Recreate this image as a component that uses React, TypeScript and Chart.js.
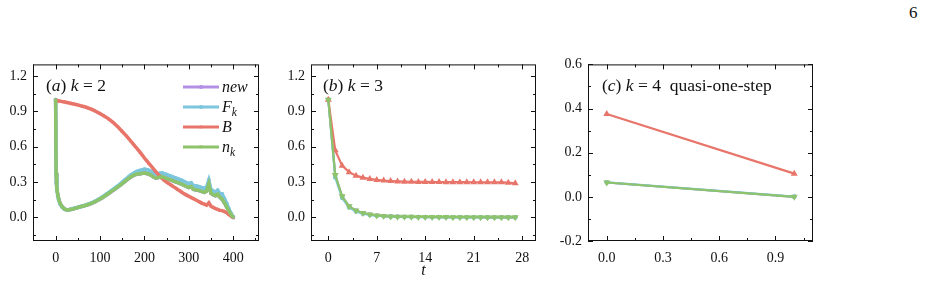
import React, { useEffect, useRef } from "react";
import { Chart, registerables } from "chart.js";

Chart.register(...registerables);

const SERIF = "'Liberation Serif', 'Times New Roman', serif";
const INK = "#111111";

const COLOR_NEW = "#b48fe6";
const COLOR_F = "#7cc6dd";
const COLOR_B = "#e8756a";
const COLOR_N = "#8dc46b";

// ---------- Panel (a): k = 2 ----------
const tA = [
  0, 1, 2, 3, 5, 7, 10, 15, 20, 25,
  30, 35, 40, 45, 50, 55, 60, 65, 70, 75,
  80, 85, 90, 95, 100, 105, 110, 115, 120, 125,
  130, 135, 140, 145, 150, 155, 160, 165, 170, 175,
  180, 185, 190, 195, 200, 205, 210, 215, 220, 225,
  230, 235, 240, 245, 250, 255, 260, 265, 270, 275,
  280, 285, 290, 295, 300, 305, 310, 315, 320, 325,
  330, 335, 340, 345, 350, 355, 360, 365, 370, 375,
  380, 385, 390, 395, 400,
];
const newA = [
  1.0, 0.38, 0.30, 0.25, 0.19, 0.155, 0.12, 0.09, 0.072, 0.064,
  0.065, 0.069, 0.074, 0.079, 0.085, 0.09, 0.095, 0.1, 0.106, 0.112,
  0.119, 0.127, 0.136, 0.146, 0.157, 0.168, 0.18, 0.193, 0.206, 0.219,
  0.232, 0.245, 0.259, 0.273, 0.288, 0.303, 0.318, 0.333, 0.346, 0.357,
  0.365, 0.37, 0.372, 0.375, 0.378, 0.374, 0.368, 0.358, 0.345, 0.335,
  0.338, 0.343, 0.346, 0.338, 0.332, 0.324, 0.317, 0.31, 0.303, 0.296,
  0.289, 0.281, 0.272, 0.263, 0.255, 0.262, 0.24, 0.236, 0.232, 0.226,
  0.22, 0.214, 0.225, 0.285, 0.205, 0.193, 0.185, 0.198, 0.172, 0.155,
  0.125, 0.09, 0.055, 0.025, 0.0,
];
const fA = [
  1.0, 0.37, 0.29, 0.24, 0.18, 0.148, 0.114, 0.086, 0.07, 0.063,
  0.065, 0.069, 0.075, 0.08, 0.086, 0.091, 0.097, 0.102, 0.108, 0.115,
  0.122, 0.13, 0.14, 0.15, 0.161, 0.173, 0.186, 0.199, 0.213, 0.226,
  0.24, 0.254, 0.268, 0.283, 0.299, 0.315, 0.331, 0.347, 0.362, 0.374,
  0.385, 0.393, 0.399, 0.404, 0.41, 0.406, 0.4, 0.39, 0.377, 0.367,
  0.37, 0.376, 0.378, 0.37, 0.364, 0.356, 0.349, 0.342, 0.335, 0.328,
  0.321, 0.313, 0.304, 0.295, 0.287, 0.294, 0.272, 0.268, 0.264, 0.258,
  0.252, 0.246, 0.258, 0.318, 0.237, 0.225, 0.216, 0.23, 0.204, 0.2,
  0.16, 0.12, 0.075, 0.035, 0.005,
];
const bA = [
  0.995, 0.994, 0.993, 0.992, 0.991, 0.99, 0.988, 0.984, 0.98, 0.976,
  0.972, 0.968, 0.964, 0.96, 0.955, 0.95, 0.945, 0.94, 0.934, 0.927,
  0.92, 0.911, 0.902, 0.892, 0.882, 0.871, 0.86, 0.848, 0.835, 0.82,
  0.805, 0.788, 0.77, 0.75, 0.73, 0.71, 0.69, 0.668, 0.645, 0.622,
  0.6, 0.578, 0.555, 0.53, 0.505, 0.482, 0.46, 0.437, 0.415, 0.392,
  0.37, 0.35, 0.332, 0.315, 0.3, 0.287, 0.275, 0.262, 0.25, 0.237,
  0.225, 0.212, 0.2, 0.19, 0.18, 0.17, 0.16, 0.15, 0.14, 0.13,
  0.12, 0.113, 0.105, 0.125, 0.095, 0.085, 0.075, 0.068, 0.06, 0.058,
  0.05, 0.04, 0.025, 0.012, 0.0,
];
const nA = [
  1.0, 0.38, 0.30, 0.25, 0.19, 0.155, 0.12, 0.09, 0.072, 0.064,
  0.065, 0.069, 0.074, 0.079, 0.085, 0.09, 0.095, 0.1, 0.106, 0.112,
  0.119, 0.127, 0.136, 0.146, 0.157, 0.168, 0.18, 0.193, 0.206, 0.219,
  0.232, 0.245, 0.259, 0.273, 0.288, 0.303, 0.318, 0.333, 0.346, 0.357,
  0.365, 0.37, 0.372, 0.375, 0.378, 0.374, 0.368, 0.358, 0.345, 0.335,
  0.338, 0.343, 0.346, 0.338, 0.332, 0.324, 0.317, 0.31, 0.303, 0.296,
  0.289, 0.281, 0.272, 0.263, 0.255, 0.262, 0.24, 0.236, 0.232, 0.226,
  0.22, 0.214, 0.225, 0.285, 0.205, 0.193, 0.185, 0.198, 0.172, 0.155,
  0.125, 0.09, 0.055, 0.025, 0.0,
];
const xTicksA = [0, 100, 200, 300, 400];

// ---------- Panel (b): k = 3 ----------
const tB = [0, 1, 2, 3, 4, 5, 6, 7, 8, 9, 10, 11, 12, 13, 14, 15, 16, 17, 18, 19, 20, 21, 22, 23, 24, 25, 26, 27];
const newB = [1.0, 0.36, 0.18, 0.095, 0.058, 0.038, 0.025, 0.017, 0.012, 0.009, 0.007, 0.006, 0.005, 0.004, 0.004, 0.003, 0.003, 0.003, 0.002, 0.002, 0.002, 0.002, 0.002, 0.001, 0.001, 0.001, 0.001, 0.001];
const fB = [1.0, 0.34, 0.165, 0.085, 0.05, 0.032, 0.021, 0.014, 0.01, 0.007, 0.005, 0.004, 0.003, 0.003, 0.002, 0.002, 0.002, 0.001, 0.001, 0.001, 0.001, 0.001, 0.001, 0.0, 0.0, 0.0, 0.0, 0.0];
const bB = [1.0, 0.57, 0.44, 0.385, 0.355, 0.338, 0.327, 0.319, 0.313, 0.309, 0.306, 0.304, 0.303, 0.302, 0.302, 0.301, 0.301, 0.3, 0.3, 0.3, 0.3, 0.299, 0.299, 0.299, 0.298, 0.298, 0.295, 0.29];
const nB = [1.0, 0.36, 0.18, 0.095, 0.058, 0.038, 0.025, 0.017, 0.012, 0.009, 0.007, 0.006, 0.005, 0.004, 0.004, 0.003, 0.003, 0.003, 0.002, 0.002, 0.002, 0.002, 0.002, 0.001, 0.001, 0.001, 0.001, 0.001];
const xTicksB = [0, 7, 14, 21, 28];

// ---------- Panel (c): k = 4 quasi-one-step ----------
const tC = [0, 1];
const newC = [0.065, 0.0];
const fC = [0.066, 0.001];
const bC = [0.375, 0.105];
const nC = [0.065, 0.0];
const xTicksC = [0, 0.3, 0.6, 0.9];

const yTicksAB = [0, 0.3, 0.6, 0.9, 1.2];
const yTicksC = [-0.2, 0, 0.2, 0.4, 0.6];

type Part = { t: string; it?: boolean; sub?: boolean };

function drawParts(ctx: CanvasRenderingContext2D, parts: Part[], x: number, y: number, size: number) {
  let cx = x;
  for (const p of parts) {
    const s = p.sub ? size * 0.72 : size;
    ctx.font = `${p.it ? "italic " : ""}${s}px ${SERIF}`;
    ctx.fillText(p.t, cx, p.sub ? y + size * 0.25 : y);
    cx += ctx.measureText(p.t).width;
  }
  return cx;
}

type SeriesDef = { key: string; color: string; style: string; rot: number; order: number; ys: number[]; legend: Part[] };

type PanelProps = {
  left: number; top: number; width: number; height: number;
  yWidth: number; padTop: number; padRight: number; areaH: number;
  xMin: number; xMax: number; yMin: number; yMax: number;
  xTicks: number[]; xMinor: number; yTicks: number[]; yMinor: number;
  xDigits: number; yDigits: number;
  xs: number[]; series: SeriesDef[];
  lineWidth: number; triRadius: number; dotRadius: number;
  label: Part[]; labelDx: number;
  legend?: boolean; xTitle?: string;
};

function minorValues(min: number, max: number, step: number, majors: number[]) {
  const out: number[] = [];
  const i0 = Math.ceil(min / step - 1e-9);
  const i1 = Math.floor(max / step + 1e-9);
  for (let i = i0; i <= i1; i++) {
    const v = i * step;
    if (!majors.some((m) => Math.abs(m - v) < step * 1e-3)) out.push(v);
  }
  return out;
}

function drawMarker(ctx: CanvasRenderingContext2D, style: string, rot: number, x: number, y: number, r: number) {
  ctx.beginPath();
  if (style === "circle") {
    ctx.arc(x, y, r, 0, Math.PI * 2);
  } else {
    const s = rot === 180 ? -1 : 1;
    ctx.moveTo(x, y - s * r * 1.1);
    ctx.lineTo(x - r, y + s * r * 0.7);
    ctx.lineTo(x + r, y + s * r * 0.7);
    ctx.closePath();
  }
  ctx.fill();
}

function Panel(p: PanelProps) {
  const ref = useRef<HTMLCanvasElement>(null);
  useEffect(() => {
    const canvas = ref.current!;
    const frame = {
      id: "frame",
      afterDraw(chart: any) {
        const ctx: CanvasRenderingContext2D = chart.ctx;
        const a = chart.chartArea;
        const xs = chart.scales.x;
        const ys = chart.scales.y;
        ctx.save();
        ctx.strokeStyle = INK;
        ctx.lineWidth = 1;
        ctx.strokeRect(a.left + 0.5, a.top + 0.5, a.right - a.left - 1, a.bottom - a.top - 1);
        const seg = (x1: number, y1: number, x2: number, y2: number) => {
          ctx.beginPath();
          ctx.moveTo(x1, y1);
          ctx.lineTo(x2, y2);
          ctx.stroke();
        };
        const xMin = minorValues(p.xMin, p.xMax, p.xMinor, p.xTicks);
        const yMin = minorValues(p.yMin, p.yMax, p.yMinor, p.yTicks);
        const drawX = (v: number, len: number) => {
          const px = Math.round(xs.getPixelForValue(v)) + 0.5;
          seg(px, a.bottom, px, a.bottom - len);
          seg(px, a.top, px, a.top + len);
        };
        const drawY = (v: number, len: number) => {
          const py = Math.round(ys.getPixelForValue(v)) + 0.5;
          seg(a.left, py, a.left + len, py);
          seg(a.right, py, a.right - len, py);
        };
        p.xTicks.forEach((v) => drawX(v, 5));
        xMin.forEach((v) => drawX(v, 3));
        p.yTicks.forEach((v) => drawY(v, 5));
        yMin.forEach((v) => drawY(v, 3));

        ctx.fillStyle = INK;
        ctx.textBaseline = "alphabetic";
        ctx.textAlign = "left";
        drawParts(ctx, p.label, a.left + p.labelDx, a.top + 27, 17.5);

        if (p.legend) {
          p.series.forEach((s, i) => {
            const y = a.top + 22.5 + i * 20;
            const x1 = a.left + 150;
            const x2 = a.left + 186;
            ctx.strokeStyle = s.color;
            ctx.lineWidth = 3;
            seg(x1, y, x2, y);
            ctx.fillStyle = s.color;
            drawMarker(ctx, s.style, s.rot, (x1 + x2) / 2, y, 2);
            ctx.fillStyle = INK;
            drawParts(ctx, s.legend, a.left + 189, y + 5, 16);
          });
        }
        if (p.xTitle) {
          ctx.fillStyle = INK;
          ctx.font = `italic 16px ${SERIF}`;
          ctx.textAlign = "center";
          ctx.fillText(p.xTitle, (a.left + a.right) / 2, 275 - p.top);
        }
        ctx.restore();
      },
    };

    const xAxisH = p.height - p.padTop - p.areaH;
    const tickFont = { family: SERIF, size: 14 };
    const chart = new Chart(canvas, {
      type: "line",
      data: {
        datasets: p.series.map((s) => ({
          label: s.key,
          data: p.xs.map((x, i) => ({ x, y: s.ys[i] })),
          borderColor: s.color,
          backgroundColor: s.color,
          pointBackgroundColor: s.color,
          pointBorderColor: s.color,
          borderWidth: p.lineWidth,
          pointRadius: s.style === "circle" ? p.dotRadius : p.triRadius,
          pointBorderWidth: 0,
          pointStyle: s.style as any,
          pointRotation: s.rot,
          order: s.order,
          tension: 0,
        })),
      },
      options: {
        animation: false,
        responsive: false,
        devicePixelRatio: 1,
        events: [],
        layout: { padding: { top: p.padTop, right: p.padRight, left: 0, bottom: 0 } },
        plugins: { legend: { display: false }, tooltip: { enabled: false } },
        scales: {
          x: {
            type: "linear",
            min: p.xMin,
            max: p.xMax,
            afterBuildTicks: (s: any) => {
              s.ticks = p.xTicks.map((value) => ({ value }));
            },
            afterFit: (s: any) => {
              s.height = xAxisH;
            },
            grid: { display: false, drawTicks: false },
            border: { display: false },
            ticks: {
              font: tickFont,
              color: INK,
              padding: 9,
              autoSkip: false,
              maxRotation: 0,
              callback: (v: any) => Number(v).toFixed(p.xDigits),
            },
          },
          y: {
            type: "linear",
            min: p.yMin,
            max: p.yMax,
            afterBuildTicks: (s: any) => {
              s.ticks = p.yTicks.map((value) => ({ value }));
            },
            afterFit: (s: any) => {
              s.width = p.yWidth;
            },
            grid: { display: false, drawTicks: false },
            border: { display: false },
            ticks: {
              font: tickFont,
              color: INK,
              padding: 6,
              autoSkip: false,
              callback: (v: any) => Number(v).toFixed(p.yDigits),
            },
          },
        },
      },
      plugins: [frame],
    } as any);
    return () => chart.destroy();
  }, []);
  return (
    <canvas
      ref={ref}
      width={p.width}
      height={p.height}
      style={{ position: "absolute", left: p.left, top: p.top, width: p.width, height: p.height }}
    />
  );
}

const LEG_NEW: Part[] = [{ t: "new", it: true }];
const LEG_F: Part[] = [{ t: "F", it: true }, { t: "k", it: true, sub: true }];
const LEG_B: Part[] = [{ t: "B", it: true }];
const LEG_N: Part[] = [{ t: "n", it: true }, { t: "k", it: true, sub: true }];

function mkSeries(nw: number[], f: number[], b: number[], n: number[]): SeriesDef[] {
  return [
    { key: "new", color: COLOR_NEW, style: "circle", rot: 0, order: 4, ys: nw, legend: LEG_NEW },
    { key: "F_k", color: COLOR_F, style: "circle", rot: 0, order: 3, ys: f, legend: LEG_F },
    { key: "B", color: COLOR_B, style: "triangle", rot: 0, order: 2, ys: b, legend: LEG_B },
    { key: "n_k", color: COLOR_N, style: "triangle", rot: 180, order: 1, ys: n, legend: LEG_N },
  ];
}

export default function App() {
  return (
    <div style={{ position: "fixed", left: 0, top: 0, width: 928, height: 284, background: "#fff", overflow: "hidden" }}>
      <Panel
        left={0} top={50} width={270} height={234}
        yWidth={33} padTop={9} padRight={11} areaH={182}
        xMin={-51} xMax={458} yMin={-0.2} yMax={1.3}
        xTicks={xTicksA} xMinor={50} yTicks={yTicksAB} yMinor={0.15}
        xDigits={0} yDigits={1}
        xs={tA} series={mkSeries(newA, fA, bA, nA)}
        lineWidth={3.5} triRadius={2.2} dotRadius={2}
        label={[{ t: "(" }, { t: "a", it: true }, { t: ") " }, { t: "k", it: true }, { t: " = 2" }]}
        labelDx={13}
        legend
      />
      <Panel
        left={270} top={50} width={280} height={234}
        yWidth={41} padTop={9} padRight={14} areaH={182}
        xMin={-2.5} xMax={30} yMin={-0.2} yMax={1.3}
        xTicks={xTicksB} xMinor={3.5} yTicks={yTicksAB} yMinor={0.15}
        xDigits={0} yDigits={1}
        xs={tB} series={mkSeries(newB, fB, bB, nB)}
        lineWidth={2.2} triRadius={4} dotRadius={2.3}
        label={[{ t: "(" }, { t: "b", it: true }, { t: ") " }, { t: "k", it: true }, { t: " = 3" }]}
        labelDx={12}
        xTitle="t"
      />
      <Panel
        left={550} top={50} width={280} height={234}
        yWidth={38} padTop={9} padRight={17} areaH={182}
        xMin={-0.1} xMax={1.1} yMin={-0.2} yMax={0.6}
        xTicks={xTicksC} xMinor={0.15} yTicks={yTicksC} yMinor={0.1}
        xDigits={1} yDigits={1}
        xs={tC} series={mkSeries(newC, fC, bC, nC)}
        lineWidth={2.2} triRadius={4} dotRadius={2.3}
        label={[{ t: "(" }, { t: "c", it: true }, { t: ") " }, { t: "k", it: true }, { t: " = 4  quasi-one-step" }]}
        labelDx={14}
      />
      <div style={{ position: "absolute", left: 909, top: 4, font: `17px ${SERIF}`, lineHeight: "17px", color: INK }}>6</div>
    </div>
  );
}
